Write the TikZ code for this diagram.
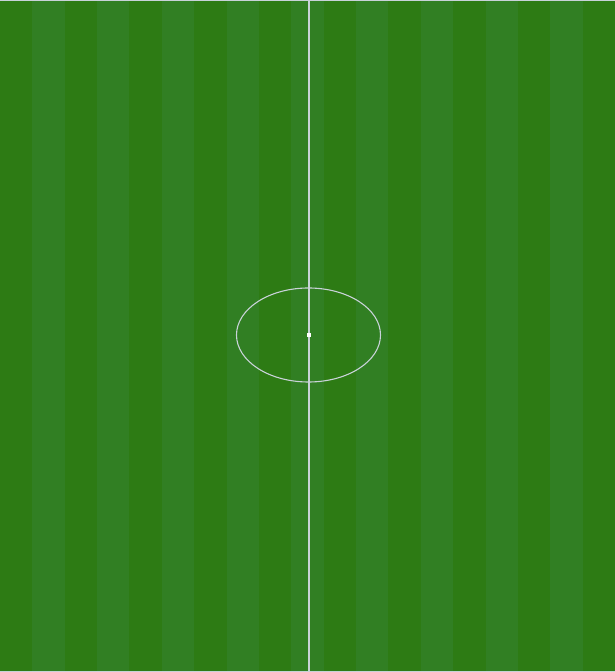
\documentclass[tikz,border=0pt]{standalone}
\usepackage{tikz}
\usetikzlibrary{calc}
\usepackage{xcolor}

\definecolor{turfdark}{RGB}{45,123,20}
\definecolor{turflight}{RGB}{49,127,35}
\definecolor{chalk}{RGB}{200,210,216}

\begin{document}
\begin{tikzpicture}[
    x=1pt, y=1pt,
    stripe/.style={fill=#1, draw=none},
    chalkline/.style={draw=chalk, line width=1.1pt},
    halfway/.style={draw=chalk, line width=2pt}
]

% Frame
\useasboundingbox (0,0) rectangle (615,672);

% Mowing stripes
\foreach \i in {0,...,18} {
    \pgfmathsetmacro{\xa}{\i*615/19}
    \pgfmathsetmacro{\xb}{(\i+1)*615/19}
    \ifodd\i
        \fill[stripe=turflight] (\xa,0) rectangle (\xb,672);
    \else
        \fill[stripe=turfdark] (\xa,0) rectangle (\xb,672);
    \fi
}

% Touch lines
\draw[chalkline] (0,671.5) -- (615,671.5);
\draw[chalkline] (0,0.5) -- (615,0.5);

% Halfway line
\draw[halfway] (308.5,0) -- (308.5,672);

% Centre circle and spot
\coordinate (centre) at (308.5,337);
\draw[chalkline] (centre) ellipse [x radius=72, y radius=47];
\fill[white] ($(centre)+(-2,-2)$) rectangle ($(centre)+(2,2)$);

\end{tikzpicture}
\end{document}
